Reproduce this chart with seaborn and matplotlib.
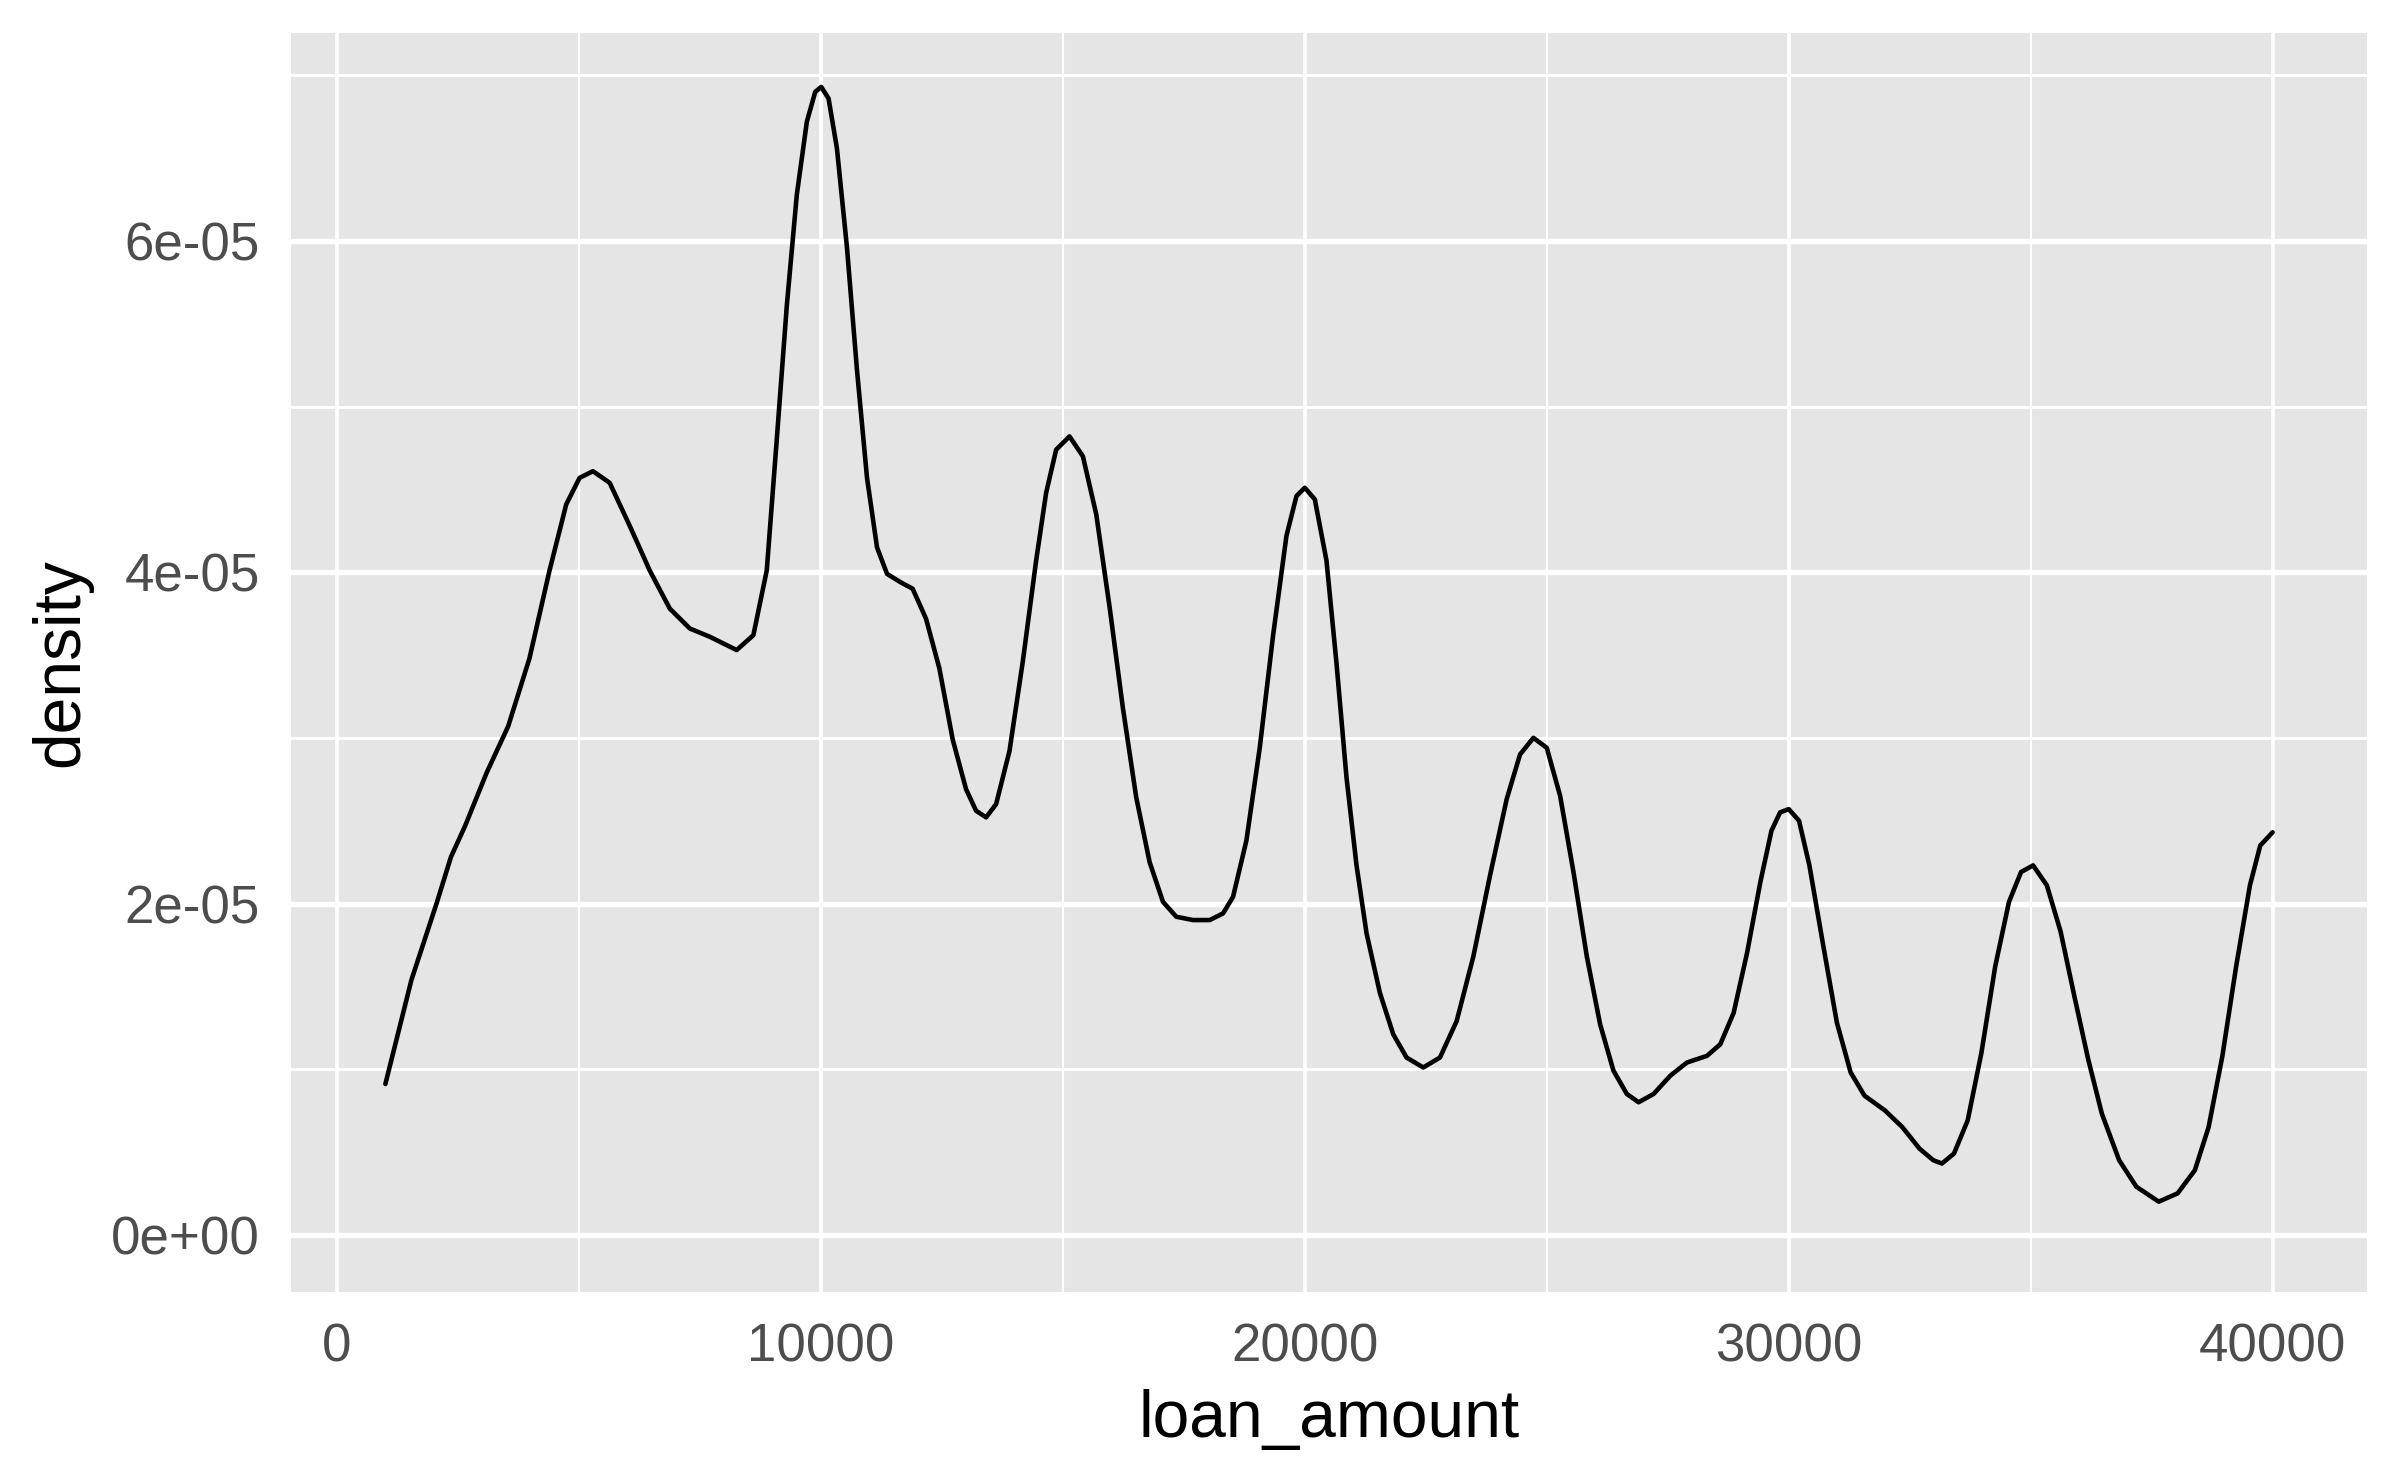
import numpy as np
import pandas as pd
import seaborn as sns
import matplotlib.pyplot as plt
from matplotlib.ticker import FixedLocator

# density curve (loan_amount, density in units of 1e-5)
loan_amount = [1000, 1540, 2058, 2354, 2650, 3094, 3538, 3978, 4392, 4738, 5014, 5290,
               5635, 6050, 6464, 6878, 7293, 7707, 8260, 8605, 8881, 9088, 9296, 9503,
               9710, 9883, 10007, 10159, 10331, 10539, 10746, 10953, 11160, 11367, 11644,
               11897, 12172, 12448, 12724, 13000, 13207, 13414, 13621, 13897, 14172, 14448,
               14655, 14862, 15138, 15414, 15690, 15966, 16241, 16517, 16793, 17069, 17345,
               17690, 18034, 18310, 18517, 18793, 19069, 19345, 19621, 19828, 20000, 20207,
               20448, 20655, 20862, 21069, 21276, 21552, 21828, 22103, 22448, 22793, 23138,
               23483, 23828, 24172, 24448, 24724, 25000, 25276, 25552, 25828, 26103, 26379,
               26655, 26897, 27207, 27552, 27897, 28310, 28586, 28862, 29138, 29414, 29644,
               29822, 30000, 30213, 30427, 30711, 30996, 31280, 31565, 31991, 32347, 32703,
               32987, 33165, 33414, 33698, 33983, 34267, 34552, 34801, 35050, 35334, 35619,
               35903, 36188, 36472, 36828, 37184, 37646, 38037, 38393, 38677, 38962, 39246,
               39531, 39744, 40000]
density_e5 = [0.91, 1.54, 2.00, 2.28, 2.47, 2.79, 3.07, 3.48, 4.01, 4.41, 4.57, 4.61,
              4.54, 4.28, 4.01, 3.78, 3.66, 3.61, 3.53, 3.62, 4.01, 4.80, 5.61, 6.28,
              6.72, 6.90, 6.93, 6.86, 6.56, 5.96, 5.22, 4.57, 4.15, 3.99, 3.94,
              3.90, 3.72, 3.42, 2.99, 2.69, 2.56, 2.52, 2.60, 2.92, 3.46, 4.07,
              4.48, 4.74, 4.82, 4.70, 4.35, 3.79, 3.18, 2.64, 2.25, 2.01, 1.92,
              1.90, 1.90, 1.94, 2.04, 2.38, 2.94, 3.62, 4.22, 4.46, 4.51, 4.44,
              4.07, 3.45, 2.76, 2.23, 1.82, 1.46, 1.21, 1.07, 1.01, 1.07, 1.29,
              1.68, 2.17, 2.63, 2.90, 3.00, 2.94, 2.65, 2.19, 1.68, 1.27, 0.99,
              0.85, 0.80, 0.85, 0.96, 1.04, 1.08, 1.15, 1.34, 1.70, 2.13, 2.44,
              2.55, 2.57, 2.50, 2.23, 1.75, 1.28, 0.98, 0.84, 0.75, 0.65, 0.52,
              0.45, 0.43, 0.49, 0.69, 1.10, 1.62, 2.01, 2.19, 2.23, 2.11, 1.83,
              1.44, 1.06, 0.73, 0.45, 0.29, 0.20, 0.25, 0.39, 0.65, 1.08, 1.62,
              2.11, 2.35, 2.43]

x_ticks = [0, 10000, 20000, 30000, 40000]
x_minor = [5000, 15000, 25000, 35000]
y_ticks = [0, 2e-05, 4e-05, 6e-05]
y_minor = [1e-05, 3e-05, 5e-05, 7e-05]
y_labels = ["0e+00", "2e-05", "4e-05", "6e-05"]

df = pd.DataFrame({"loan_amount": loan_amount,
                   "density": np.array(density_e5) * 1e-05})

sns.set_style("white")
plt.rcParams["font.family"] = ["Liberation Sans", "DejaVu Sans"]

fig = plt.figure(figsize=(8, 1483 / 300), dpi=300)
ax = fig.add_axes([291 / 2400, 1 - 1292 / 1483, (2367 - 291) / 2400, (1292 - 33) / 1483])
ax.set_facecolor("#E5E5E5")

sns.lineplot(data=df, x="loan_amount", y="density", color="black", linewidth=1.1, ax=ax)
ax.lines[0].set_solid_joinstyle("round")

ax.set_xlim(-950, 41950)
ax.set_ylim(-0.3455e-05, 7.2555e-05)

ax.xaxis.set_major_locator(FixedLocator(x_ticks))
ax.xaxis.set_minor_locator(FixedLocator(x_minor))
ax.yaxis.set_major_locator(FixedLocator(y_ticks))
ax.yaxis.set_minor_locator(FixedLocator(y_minor))
ax.set_xticklabels([str(v) for v in x_ticks])
ax.set_yticklabels(y_labels)

ax.grid(axis="x", which="major", color="white", linewidth=0.9)
ax.grid(axis="x", which="minor", color="white", linewidth=0.5)
ax.grid(axis="y", which="major", color="white", linewidth=1.3)
ax.grid(axis="y", which="minor", color="white", linewidth=0.7)
ax.set_axisbelow(True)

for s in ax.spines.values():
    s.set_visible(False)

ax.tick_params(which="major", length=3.9, width=0.9, color="#333333",
               labelsize=12.7, labelcolor="#4D4D4D", pad=3.5)
ax.tick_params(which="minor", length=0)

ax.set_xlabel("loan_amount", fontsize=15.8, color="black", labelpad=4)
ax.set_ylabel("density", fontsize=15.8, color="black", labelpad=4.5)

fig.savefig("out.png", dpi=300)
